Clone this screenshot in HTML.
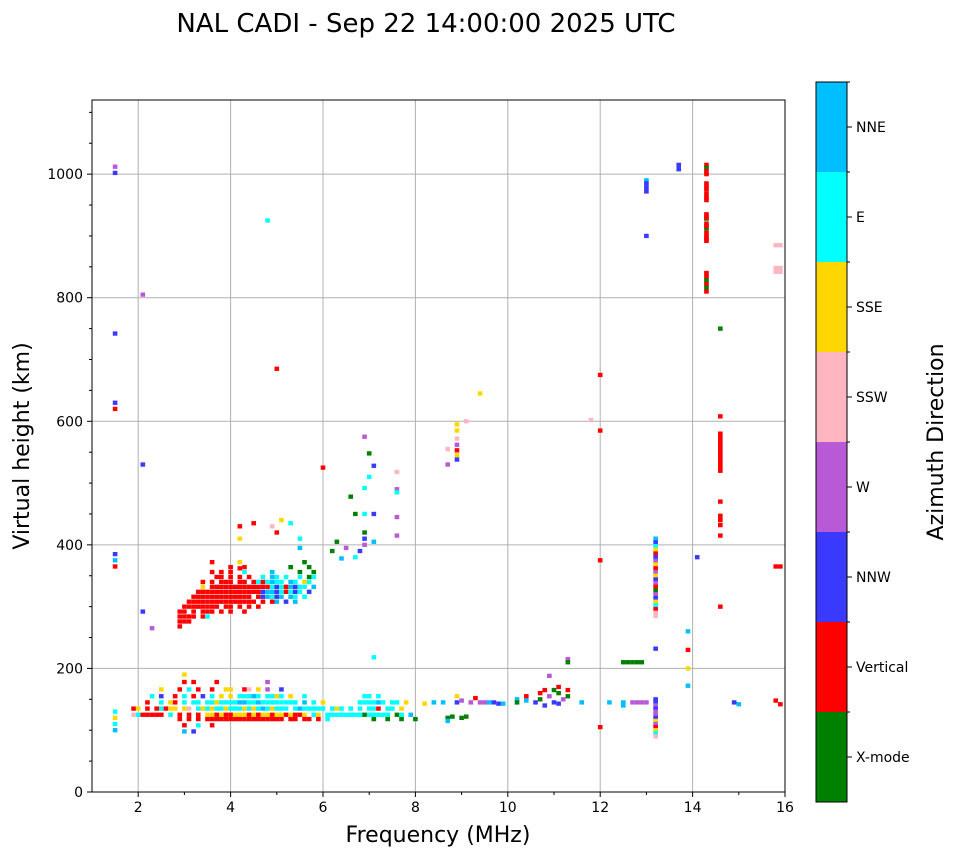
<!DOCTYPE html>
<html><head><meta charset="utf-8">
<style>
html,body{margin:0;padding:0;background:#fff;}
svg{display:block;font-family:"DejaVu Sans","Liberation Sans",sans-serif;}
</style></head>
<body>
<svg id="chart" width="958" height="857" viewBox="0 0 958 857" xmlns="http://www.w3.org/2000/svg">
<text x="426" y="32" font-size="26" text-anchor="middle">NAL CADI - Sep 22 14:00:00 2025 UTC</text>
<g id="grid"></g>
<g id="marks"></g>
<rect x="92" y="100" width="693" height="692" fill="none" stroke="#000" stroke-width="1"/>
<g id="axes"></g>
<text x="438" y="842" font-size="22" text-anchor="middle">Frequency (MHz)</text>
<text transform="translate(29,446) rotate(-90)" font-size="22" text-anchor="middle">Virtual height (km)</text>
<g id="cbar"></g>
<text transform="translate(943,442) rotate(-90)" font-size="22" text-anchor="middle">Azimuth Direction</text>
</svg>
<script>
const dirNames=["X-mode","Vertical","NNW","W","SSW","SSE","E","NNE"];
const dirColors=["#008000","#ff0000","#3a3aff","#b85ad6","#ffb6c1","#ffd700","#00ffff","#00bfff"];
const xTicks=[2,4,6,8,10,12,14,16];
const yTicks=[0,200,400,600,800,1000];
const xDomain=[1,16], yDomain=[0,1120];

// E-layer grid: columns start 1.9 MHz step 0.1
const eStart=1.9;
const eHeights=[190,178,166,155,145,135,125,118,108,98];
const eRows=[
"...........5......................................................",
"...........1.1....1..........3....................................",
"......5...1.6.1..1..55..14.5.3..2.................................",
"....6.2..1.6.1.2.6.5.5.66676.6656.5..6............66.6...........",
"...1..6.51.6.66.66566667766766666666.7.6.5.......666676.66.5......",
"15.1.16155.54.65656656665656765666.6766666.656.6.6.661.66.5.......",
"4611111.6.1.1.1.5515115551515515515115.65.66666666066666.06.7.....",
"..........1.1.1.11111111111111111.11.11.1.6.........0..0..0..0....",
"...........1..6..1................................................",
"...........7.2...................................................."
];
// F-layer grid: columns start 2.9 MHz step 0.1
const fStart=2.9;
const fHeights=[372,364,356,348,340,332,324,316,308,300,292,284,276,268];
const fRows=[
".......1.....5.............0.....",
"...........1..1.........0...0....",
".......1.1.1..6.....7.....0..0...",
"........11.1.1.1..6.76.6..6.06...",
".....1.1.111.11.1616766.76.56....",
".....5.111111111111162617266.7...",
"....11111111111111277261626.2....",
"...1111111111111.127627.76.6.....",
"..111111111111111.1.17.2.7.......",
".11111111.11.1.1.1...............",
"11.1.111.1.1..1..................",
"1111.16..........................",
"111..............................",
"1................................"
];
// sparse echoes: frequency (MHz), virtual height (km), direction index
const ptFreq=[1.5,1.5,1.5,1.5,1.5,1.5,1.5,1.5,2.1,2.1,2.1,2.3,
4.8,5.0,6.0,6.9,7.0,7.1,7.0,6.9,6.6,6.7,6.9,7.1,7.6,7.6,7.6,7.6,7.6,6.9,6.9,6.9,7.1,6.8,6.7,6.4,6.2,6.3,6.5,4.2,4.5,4.2,5.1,5.3,5.5,5.5,5.0,4.9,4.2,7.1,
8.7,8.9,8.9,8.9,8.9,8.9,8.9,8.9,8.7,9.1,9.4,
11.8,12.0,12.0,12.0,12.0,
13.0,13.0,13.0,13.0,13.0,13.7,13.7,
14.3,14.3,14.3,14.3,14.3,14.3,14.3,14.3,14.3,14.3,14.3,14.3,14.3,14.3,14.3,14.3,14.3,14.3,14.3,14.3,14.3,14.3,14.3,14.3,14.3,14.3,
14.6,14.6,14.6,14.6,14.6,14.6,14.6,14.6,14.6,14.6,14.6,14.6,14.6,14.6,14.6,14.6,14.6,14.6,14.6,
14.1,13.9,13.9,13.9,13.9,
13.2,13.2,13.2,13.2,13.2,13.2,13.2,13.2,13.2,13.2,13.2,13.2,13.2,13.2,13.2,13.2,13.2,13.2,13.2,13.2,13.2,13.2,13.2,
13.2,13.2,13.2,13.2,13.2,13.2,13.2,13.2,13.2,13.2,13.2,13.2,13.2,
12.5,12.6,12.7,12.8,12.9,
15.8,15.9,15.8,15.9,15.8,15.9,15.8,15.9,15.8,15.9,14.9,15.0,12.2,12.5,12.5,12.7,12.8,12.9,13.0,
8.2,8.4,8.6,8.7,8.7,8.8,8.9,8.9,9.0,9.0,9.1,9.2,9.3,9.4,9.5,9.6,9.7,9.8,9.9,10.2,10.2,10.4,10.4,10.6,10.7,10.7,10.8,10.8,10.9,10.9,11.0,11.1,11.1,11.2,11.3,11.3,11.3,11.3,11.6,11.0,11.1,1.5,1.5,1.5,1.5];
const ptHeight=[1012,1002,742,630,620,385,375,365,805,530,292,265,
925,685,525,575,548,528,510,492,478,450,450,450,518,490,485,445,415,420,410,400,405,390,380,378,390,405,395,430,435,410,440,435,395,410,420,430,362,218,
555,595,585,572,562,553,545,538,530,600,645,
602,675,585,375,105,
990,985,978,972,900,1015,1008,
1015,1010,1005,1000,985,980,975,968,962,935,928,920,912,905,898,892,840,834,828,822,816,810,958,930,916,896,
750,608,580,574,568,562,556,550,544,538,532,526,520,470,447,440,432,415,300,
380,260,230,200,172,
410,404,398,392,386,380,374,368,362,356,350,344,338,332,326,320,314,308,302,296,290,285,232,
150,145,140,135,130,125,120,115,110,105,100,95,90,
210,210,210,210,210,
885,885,848,848,842,842,365,365,148,142,145,142,145,145,140,145,145,145,145,
143,145,145,120,115,122,155,145,148,120,122,145,152,145,145,145,145,143,143,150,145,155,148,145,160,150,165,140,155,188,165,170,160,150,165,155,215,210,145,145,143,130,120,110,100];
const ptDir=[3,2,2,2,1,2,7,1,3,2,2,3,
6,1,1,3,0,2,6,6,0,0,6,2,4,3,6,3,3,0,2,3,7,2,6,7,0,0,3,1,1,5,5,6,7,6,1,4,1,6,
4,5,5,4,3,1,5,2,3,4,5,
4,1,1,1,1,
7,2,2,2,2,2,2,
1,0,1,1,1,1,1,1,1,1,0,1,0,1,1,1,1,1,0,1,0,1,1,1,1,1,
0,1,1,1,1,1,1,1,1,1,1,1,1,1,1,1,1,1,1,
2,7,1,5,7,
7,2,6,5,1,2,3,5,1,3,5,2,3,1,0,3,2,5,6,1,4,4,2,
2,2,3,2,3,3,2,5,3,1,5,6,4,
0,0,0,0,0,
4,4,4,4,4,4,1,1,1,1,2,7,7,7,7,3,3,3,3,
5,7,7,0,7,0,5,2,3,0,0,3,1,3,3,7,2,2,7,7,0,1,7,2,1,0,1,2,3,3,0,1,0,3,1,0,3,0,7,2,2,6,5,6,7];

const NS="http://www.w3.org/2000/svg";
const X0=92,X1=785,Y0=792,Y1=100;
const xScale=f=>X0+(f-xDomain[0])/(xDomain[1]-xDomain[0])*(X1-X0);
const yScale=h=>Y0-(h-yDomain[0])/(yDomain[1]-yDomain[0])*(Y0-Y1);
function mk(tag,attrs,parent){const e=document.createElementNS(NS,tag);for(const k in attrs)e.setAttribute(k,attrs[k]);parent.appendChild(e);return e;}
const gGrid=document.getElementById('grid'),gMarks=document.getElementById('marks'),gAx=document.getElementById('axes'),gCb=document.getElementById('cbar');

xTicks.forEach(t=>{const x=xScale(t);
 if(t<16){const l=mk('line',{x1:x,x2:x,y1:Y1,y2:Y0,stroke:'#b0b0b0','stroke-width':1},gGrid);
 
 }
 const tk=mk('line',{x1:x,x2:x,y1:Y0,y2:Y0+5,stroke:'#000'},gAx);
 
 
 const tx=mk('text',{x:x,y:Y0+20,'font-size':14,'text-anchor':'middle'},gAx);tx.textContent=t;
 
 
});
for(let f=3;f<16;f+=2){mk('line',{x1:xScale(f),x2:xScale(f),y1:Y0,y2:Y0+3,stroke:'#000'},gAx);}
yTicks.forEach(t=>{const y=yScale(t);
 if(t>0){const l=mk('line',{x1:X0,x2:X1,y1:y,y2:y,stroke:'#b0b0b0','stroke-width':1},gGrid);
 
 }
 const tk=mk('line',{x1:X0-5,x2:X0,y1:y,y2:y,stroke:'#000'},gAx);
 
 
 const tx=mk('text',{x:X0-9,y:y+5,'font-size':14,'text-anchor':'end'},gAx);tx.textContent=t;
 
 
});
for(let h=50;h<1120;h+=50){if(h%200)mk('line',{x1:X0-3,x2:X0,y1:yScale(h),y2:yScale(h),stroke:'#000'},gAx);}

const CW=0.1, CH=7;
function cell(f,h,d){
 const r=mk('rect',{x:xScale(f-CW/2),y:yScale(h+CH/2),width:xScale(f+CW/2)-xScale(f-CW/2),height:yScale(0)-yScale(CH),fill:dirColors[d]},gMarks);
 
 
}
function drawGrid(start,heights,rows){
 rows.forEach((row,ri)=>{for(let i=0;i<row.length;i++){const c=row[i];if(c!=='.')cell(start+0.1*i,heights[ri],+c);}});
}
drawGrid(eStart,eHeights,eRows);
drawGrid(fStart,fHeights,fRows);
for(let i=0;i<ptFreq.length;i++){cell(ptFreq[i],ptHeight[i],ptDir[i]);}

// colorbar
const cbX=816,cbW=31,cbTop=82,cbBot=802,seg=(cbBot-cbTop)/dirNames.length;
dirNames.forEach((n,i)=>{const y=cbBot-(i+1)*seg;
 const r=mk('rect',{x:cbX,y:y,width:cbW,height:seg,fill:dirColors[i]},gCb);
 
 
 mk('line',{x1:cbX+cbW,x2:cbX+cbW+5,y1:y+seg/2,y2:y+seg/2,stroke:'#000'},gCb);
 mk('line',{x1:cbX+cbW,x2:cbX+cbW+3,y1:y,y2:y,stroke:'#000'},gCb);
 const t=mk('text',{x:856,y:y+seg/2+5,'font-size':14},gCb);t.textContent=n;
 
 
});
mk('rect',{x:cbX,y:cbTop,width:cbW,height:cbBot-cbTop,fill:'none',stroke:'#000'},gCb);
</script>
</body></html>
